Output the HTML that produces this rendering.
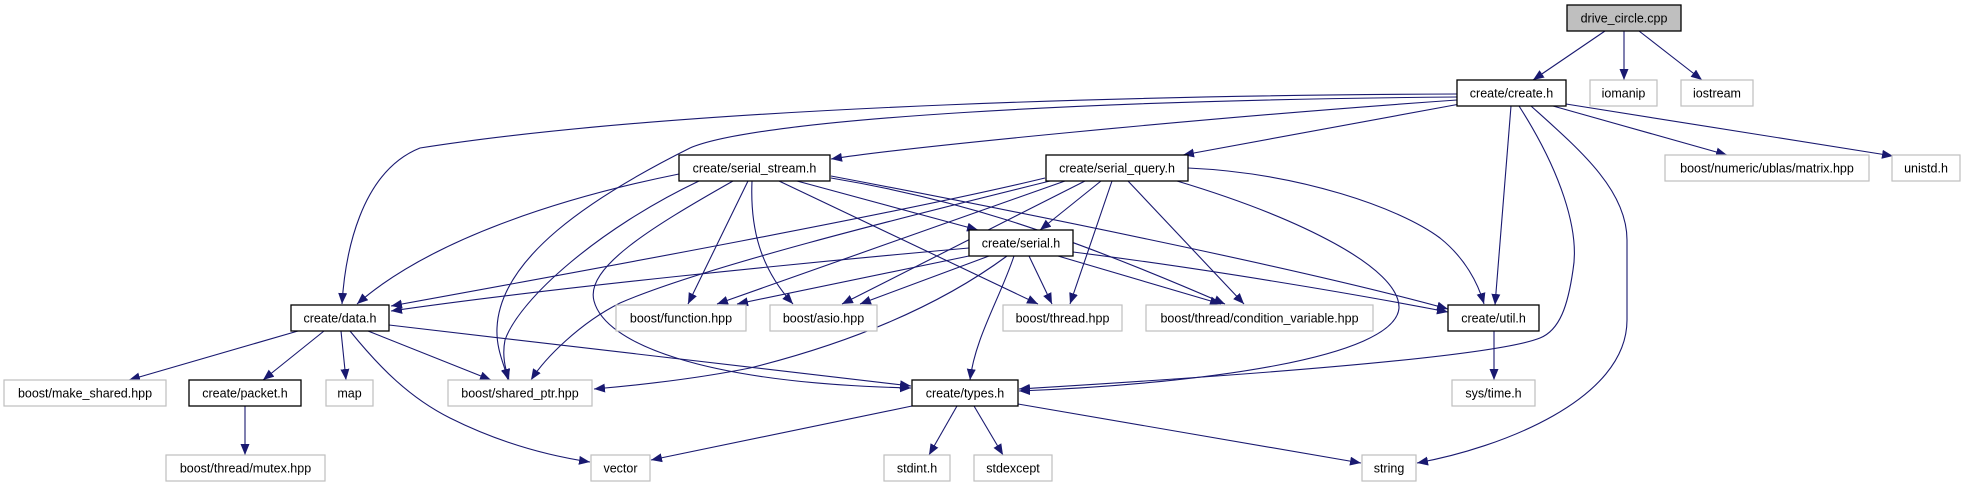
<!DOCTYPE html>
<html><head><meta charset="utf-8"><style>
html,body{margin:0;padding:0;background:#fff;}
svg{display:block;}
text{font-family:"Liberation Sans",Arial,sans-serif;font-size:12.5px;fill:#000;}
.e{fill:none;stroke:#191970;stroke-width:1.1;marker-end:url(#a);}
.b{fill:#fff;stroke:#000;stroke-width:1.3;}
.g{fill:#fff;stroke:#bfbfbf;stroke-width:1.2;}
</style></head><body>
<svg width="1965" height="485" viewBox="0 0 1965 485" xmlns="http://www.w3.org/2000/svg">
<defs><marker id="a" markerUnits="userSpaceOnUse" markerWidth="12" markerHeight="10" refX="11" refY="4.5" orient="auto"><path d="M0,0 L11,4.5 L0,9 Z" fill="#191970"/></marker></defs>

<!-- edges -->
<path class="e" d="M1605,31 L1533,80"/>
<path class="e" d="M1624,31 L1624,80"/>
<path class="e" d="M1639,31 L1702,80"/>
<path class="e" d="M1553,106 L1727,155"/>
<path class="e" d="M1566,104 L1893,156"/>
<path class="e" d="M1511,106 L1495,305"/>
<path class="e" d="M1519,106 C1560,170 1580,230 1573,270 C1568,305 1560,330 1540,338 C1480,362 1100,384 1019,389"/>
<path class="e" d="M1531,106 C1580,150 1627,190 1627,240 L1627,320 C1627,400 1500,448 1417,463"/>
<path class="e" d="M1457,94 C1200,95 700,104 420,148 C360,172 345,255 342,304"/>
<path class="e" d="M1457,97 C1100,100 760,118 690,148 C590,198 500,258 497,328 C496,350 505,366 508,380"/>
<path class="e" d="M1457,100 C1200,118 900,148 831,159"/>
<path class="e" d="M1460,104 L1183,155"/>

<path class="e" d="M679,174 C560,198 430,240 357,304"/>
<path class="e" d="M699,181 C600,228 520,298 505,340 C502,355 505,368 509,380"/>
<path class="e" d="M733,181 C650,228 585,268 594,301 C605,343 700,383 911,388"/>
<path class="e" d="M748,181 L688,304"/>
<path class="e" d="M752,181 C750,228 760,268 793,304"/>
<path class="e" d="M779,181 L1038,304"/>
<path class="e" d="M797,181 L978,230"/>
<path class="e" d="M831,178 C950,198 1050,228 1225,304"/>
<path class="e" d="M831,176 C1000,208 1300,268 1448,309"/>

<path class="e" d="M1045,178 C900,213 600,268 391,306"/>
<path class="e" d="M1050,181 C900,218 700,268 620,303 C580,323 545,358 531,380"/>
<path class="e" d="M1065,181 L717,304"/>
<path class="e" d="M1085,181 L842,304"/>
<path class="e" d="M1101,181 L1040,230"/>
<path class="e" d="M1112,181 L1070,304"/>
<path class="e" d="M1128,181 L1244,304"/>
<path class="e" d="M1177,181 C1300,218 1400,268 1399,308 C1395,358 1200,384 1019,391"/>
<path class="e" d="M1188,168 C1300,173 1400,208 1440,238 C1465,258 1478,283 1484,304"/>

<path class="e" d="M969,248 C800,263 550,288 391,311"/>
<path class="e" d="M969,256 L737,304"/>
<path class="e" d="M989,256 L860,304"/>
<path class="e" d="M1029,256 L1052,304"/>
<path class="e" d="M1014,256 C1000,298 975,338 970,380"/>
<path class="e" d="M1058,256 L1221,304"/>
<path class="e" d="M1073,252 C1200,268 1350,293 1448,312"/>
<path class="e" d="M1007,256 C950,298 870,338 750,368 C700,378 640,385 594,389"/>

<path class="e" d="M298,331 L129,380"/>
<path class="e" d="M324,331 L263,380"/>
<path class="e" d="M341,331 L346,380"/>
<path class="e" d="M368,331 L491,380"/>
<path class="e" d="M350,331 C380,368 410,398 450,418 C500,443 550,456 590,462"/>
<path class="e" d="M389,325 L911,386"/>
<path class="e" d="M245,406 L245,455"/>
<path class="e" d="M912,406 L651,460"/>
<path class="e" d="M957,406 L929,455"/>
<path class="e" d="M974,406 L1003,455"/>
<path class="e" d="M1018,404 L1361,463"/>
<path class="e" d="M1494,331 L1494,380"/>

<!-- nodes -->
<g>
<rect x="1567" y="5" width="114" height="26" fill="#bfbfbf" stroke="#000" stroke-width="1.3"/>
<text x="1624" y="22.5" text-anchor="middle">drive_circle.cpp</text>

<rect class="b" x="1457" y="80" width="109" height="26"/><text x="1511.5" y="97.5" text-anchor="middle">create/create.h</text>
<rect class="g" x="1590" y="80" width="67" height="26"/><text x="1623.5" y="97.5" text-anchor="middle">iomanip</text>
<rect class="g" x="1681" y="80" width="72" height="26"/><text x="1717" y="97.5" text-anchor="middle">iostream</text>

<rect class="b" x="679" y="155" width="151" height="26"/><text x="754.5" y="172.5" text-anchor="middle">create/serial_stream.h</text>
<rect class="b" x="1046" y="155" width="142" height="26"/><text x="1117" y="172.5" text-anchor="middle">create/serial_query.h</text>
<rect class="g" x="1665" y="155" width="204" height="26"/><text x="1767" y="172.5" text-anchor="middle">boost/numeric/ublas/matrix.hpp</text>
<rect class="g" x="1892" y="155" width="68" height="26"/><text x="1926" y="172.5" text-anchor="middle">unistd.h</text>

<rect class="b" x="969" y="230" width="104" height="26"/><text x="1021" y="247.5" text-anchor="middle">create/serial.h</text>

<rect class="b" x="291" y="305" width="98" height="26"/><text x="340" y="322.5" text-anchor="middle">create/data.h</text>
<rect class="g" x="616" y="305" width="130" height="26"/><text x="681" y="322.5" text-anchor="middle">boost/function.hpp</text>
<rect class="g" x="770" y="305" width="107" height="26"/><text x="823.5" y="322.5" text-anchor="middle">boost/asio.hpp</text>
<rect class="g" x="1003" y="305" width="119" height="26"/><text x="1062.5" y="322.5" text-anchor="middle">boost/thread.hpp</text>
<rect class="g" x="1146" y="305" width="227" height="26"/><text x="1259.5" y="322.5" text-anchor="middle">boost/thread/condition_variable.hpp</text>
<rect class="b" x="1448" y="305" width="91" height="26"/><text x="1493.5" y="322.5" text-anchor="middle">create/util.h</text>

<rect class="g" x="4" y="380" width="162" height="26"/><text x="85" y="397.5" text-anchor="middle">boost/make_shared.hpp</text>
<rect class="b" x="189" y="380" width="112" height="26"/><text x="245" y="397.5" text-anchor="middle">create/packet.h</text>
<rect class="g" x="326" y="380" width="47" height="26"/><text x="349.5" y="397.5" text-anchor="middle">map</text>
<rect class="g" x="448" y="380" width="144" height="26"/><text x="520" y="397.5" text-anchor="middle">boost/shared_ptr.hpp</text>
<rect class="b" x="912" y="380" width="106" height="26"/><text x="965" y="397.5" text-anchor="middle">create/types.h</text>
<rect class="g" x="1452" y="380" width="83" height="26"/><text x="1493.5" y="397.5" text-anchor="middle">sys/time.h</text>

<rect class="g" x="166" y="455" width="159" height="26"/><text x="245.5" y="472.5" text-anchor="middle">boost/thread/mutex.hpp</text>
<rect class="g" x="591" y="455" width="59" height="26"/><text x="620.5" y="472.5" text-anchor="middle">vector</text>
<rect class="g" x="884" y="455" width="66" height="26"/><text x="917" y="472.5" text-anchor="middle">stdint.h</text>
<rect class="g" x="974" y="455" width="78" height="26"/><text x="1013" y="472.5" text-anchor="middle">stdexcept</text>
<rect class="g" x="1362" y="455" width="54" height="26"/><text x="1389" y="472.5" text-anchor="middle">string</text>
</g>
</svg>
</body></html>
